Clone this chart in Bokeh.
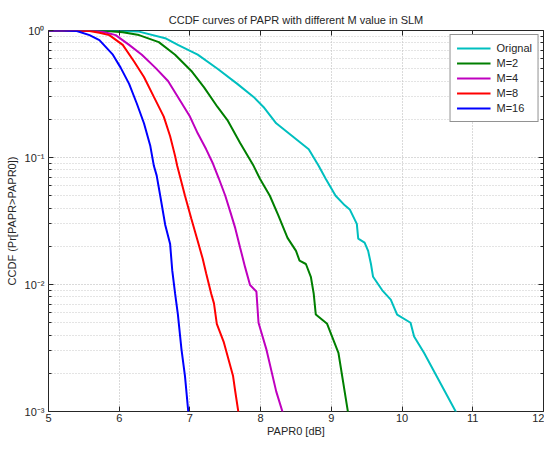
from bokeh.plotting import figure
from bokeh.models import (Range1d, CustomJSTickFormatter, FixedTicker, Legend, LegendItem,
                          LinearAxis, LogAxis)
from bokeh.embed import file_html
from bokeh.resources import INLINE

# ---- data ----
orig_x = [5.0, 5.6, 5.9, 6.28, 6.65, 6.83, 7.11, 7.39, 7.67, 7.90, 8.04, 8.22, 8.45, 8.68, 8.82,
          8.92, 9.06, 9.19, 9.26, 9.36, 9.38, 9.47, 9.52, 9.56, 9.59, 9.72, 9.84, 9.93, 10.12,
          10.17, 10.31, 10.78]
orig_y = [1.0, 0.999, 0.995, 0.98, 0.87, 0.77, 0.645, 0.50, 0.38, 0.30, 0.25, 0.186, 0.147, 0.116,
          0.086, 0.068, 0.050, 0.042, 0.039, 0.030, 0.023, 0.0214, 0.0184, 0.0145, 0.0115, 0.0090,
          0.0076, 0.0058, 0.0050, 0.0039, 0.0029, 0.00095]

m2_x = [5.0, 5.5, 5.82, 6.05, 6.28, 6.56, 6.79, 7.02, 7.20, 7.39, 7.53, 7.71, 7.90, 7.99, 8.13,
        8.25, 8.38, 8.50, 8.55, 8.64, 8.71, 8.75, 8.78, 8.94, 9.10, 9.24]
m2_y = [1.0, 0.999, 0.99, 0.97, 0.92, 0.81, 0.645, 0.48, 0.357, 0.25, 0.197, 0.13, 0.086, 0.068,
        0.050, 0.035, 0.0233, 0.0184, 0.0154, 0.0145, 0.0115, 0.0085, 0.0058, 0.0049, 0.0029, 0.00095]

m4_x = [5.0, 5.4, 5.69, 5.82, 5.95, 6.14, 6.32, 6.51, 6.69, 6.83, 7.0, 7.11, 7.23, 7.32, 7.41,
        7.50, 7.57, 7.64, 7.71, 7.78, 7.85, 7.94, 7.97, 8.08, 8.22, 8.32]
m4_y = [1.0, 0.999, 0.99, 0.96, 0.92, 0.77, 0.645, 0.51, 0.40, 0.30, 0.21, 0.155, 0.116, 0.091,
        0.068, 0.050, 0.0375, 0.0279, 0.0195, 0.0137, 0.0099, 0.0088, 0.0050, 0.0031, 0.00144, 0.00095]

m8_x = [5.0, 5.3, 5.58, 5.72, 5.86, 6.05, 6.21, 6.35, 6.49, 6.63, 6.72, 6.79, 6.82, 6.93, 7.02,
        7.11, 7.18, 7.23, 7.30, 7.34, 7.38, 7.48, 7.61, 7.64, 7.69]
m8_y = [1.0, 0.999, 0.99, 0.96, 0.92, 0.77, 0.57, 0.43, 0.30, 0.21, 0.147, 0.103, 0.086, 0.050,
        0.033, 0.022, 0.016, 0.0122, 0.0085, 0.0071, 0.0049, 0.0035, 0.0019, 0.00145, 0.00095]

m16_x = [5.0, 5.2, 5.4, 5.58, 5.72, 5.91, 6.02, 6.14, 6.25, 6.35, 6.44, 6.49, 6.53, 6.58, 6.65,
         6.72, 6.75, 6.79, 6.83, 6.88, 6.93, 6.98]
m16_y = [1.0, 0.999, 0.99, 0.92, 0.84, 0.645, 0.51, 0.38, 0.265, 0.186, 0.123, 0.086, 0.072, 0.050,
         0.0296, 0.0208, 0.0129, 0.0085, 0.0058, 0.0031, 0.0019, 0.00095]

series_names = ["Orignal", "M=2", "M=4", "M=8", "M=16"]
series_colors = ["#00bfbf", "#007f00", "#bf00bf", "#ff0000", "#0000ff"]
x_ticks = [5, 6, 7, 8, 9, 10, 11, 12]
y_ticks = [0.001, 0.01, 0.1, 1]
y_minor_ticks = [k * 10.0 ** e for e in (-3, -2, -1) for k in range(2, 10)]

FONT = "Liberation Sans"
INK = "#262626"

p = figure(width=544, height=439, output_backend="svg", toolbar_location=None,
           y_axis_type="log", x_range=Range1d(5, 12), y_range=Range1d(1e-3, 1),
           min_border_left=48, min_border_right=1, min_border_top=30, min_border_bottom=26)

bottom_ax = p.below[0]
left_ax = p.left[0]

p.title.text = "CCDF curves of PAPR with different M value in SLM"
p.title.align = "center"
p.title.text_font = FONT
p.title.text_font_size = "11px"
p.title.text_font_style = "normal"
p.title.text_color = INK
p.title.offset = 0

p.outline_line_color = INK
p.outline_line_width = 1

xs = [orig_x, m2_x, m4_x, m8_x, m16_x]
ys = [orig_y, m2_y, m4_y, m8_y, m16_y]
items = []
for x, y, name, col in zip(xs, ys, series_names, series_colors):
    r = p.line(x, y, line_color=col, line_width=2)
    items.append(LegendItem(label=name, renderers=[r]))

legend = Legend(items=items, location="top_right", border_line_color=INK,
                border_line_width=1, background_fill_color="white", background_fill_alpha=1,
                label_text_font=FONT, label_text_font_size="11px", label_text_color=INK,
                glyph_width=34, glyph_height=14, label_height=14, spacing=1, padding=6,
                margin=4, label_standoff=6)
p.add_layout(legend)

xt = FixedTicker(ticks=x_ticks)
yt = FixedTicker(ticks=y_ticks, minor_ticks=y_minor_ticks)
bottom_ax.ticker = xt
p.xgrid.ticker = xt
left_ax.ticker = yt
p.ygrid.ticker = yt
left_ax.formatter = CustomJSTickFormatter(code="""
const sup = {'0':'\u2070','1':'\u00b9','2':'\u00b2','3':'\u00b3','-':'\u207b'};
const e = Math.round(Math.log10(tick));
return '10' + String(e).split('').map(c => sup[c]).join('');
""")

# box ticks on top and right (no labels)
top_ax = LinearAxis(ticker=xt)
right_ax = LogAxis(ticker=yt)
p.add_layout(top_ax, "above")
p.add_layout(right_ax, "right")
for ax in (top_ax, right_ax):
    ax.major_label_text_font_size = "1px"
    ax.major_label_text_color = None
    ax.major_label_standoff = 0

for ax in (bottom_ax, left_ax, top_ax, right_ax):
    ax.axis_line_color = None
    ax.major_tick_in = 5
    ax.major_tick_out = 0
    ax.major_tick_line_color = INK
    ax.major_label_text_font = FONT
    ax.axis_label_text_font = FONT
    ax.axis_label_text_font_size = "11px"
    ax.axis_label_text_font_style = "normal"
    ax.axis_label_text_color = INK

for ax in (bottom_ax, left_ax):
    ax.major_label_text_font_size = "11px"
    ax.major_label_text_color = INK

for ax in (bottom_ax, top_ax):
    ax.minor_tick_line_color = None
for ax in (left_ax, right_ax):
    ax.minor_tick_in = 3
    ax.minor_tick_out = 0
    ax.minor_tick_line_color = INK

bottom_ax.major_label_standoff = 2
left_ax.major_label_standoff = 4
bottom_ax.axis_label_standoff = 0
left_ax.axis_label_standoff = 4
bottom_ax.axis_label = "PAPR0 [dB]"
left_ax.axis_label = "CCDF (Pr[PAPR>PAPR0])"

p.xgrid.grid_line_color = "#b4b4b4"
p.xgrid.grid_line_dash = "1 2"
p.ygrid.grid_line_color = "#b4b4b4"
p.ygrid.grid_line_dash = "1 2"
p.ygrid.minor_grid_line_color = "#c8c8c8"
p.ygrid.minor_grid_line_dash = "1 2"

open("out.html", "w").write(file_html(p, INLINE))
